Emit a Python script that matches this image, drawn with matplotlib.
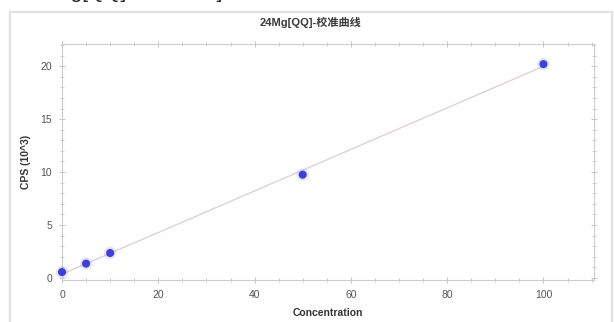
import numpy as np
import matplotlib
matplotlib.use("Agg")
import matplotlib.pyplot as plt
from matplotlib.patches import Rectangle
from matplotlib.ticker import MultipleLocator

plt.rcParams['font.family'] = ['Liberation Sans', 'Noto Sans CJK SC', 'DejaVu Sans']

# Calibration standards
concentration = [0, 5, 10, 50, 100]
cps_k = [0.55, 1.35, 2.35, 9.75, 20.2]

title = "24Mg[QQ]-校准曲线"
x_label = "Concentration"
y_label = "CPS (10^3)"
caption = "24Mg[QQ]-校准曲线]"

fig = plt.figure(figsize=(6.14, 3.22), dpi=100)
fig.patch.set_facecolor('white')

# panel frame
fig.patches.append(Rectangle((10 / 614, -0.05), 602 / 614, 1 - 12 / 322 + 0.05,
                             transform=fig.transFigure, fill=False,
                             edgecolor='#e2e2e2', linewidth=1.6))

# caption line running off the top edge
fig.text(30 / 614, 1 + 1.5 / 322, caption, fontsize=15, color='#222222',
         ha='left', va='baseline')

ax = fig.add_axes([62 / 614, 1 - 280 / 322, (594 - 62) / 614, (280 - 44) / 322])

# linear fit of the standards
slope, intercept = np.polyfit(concentration, cps_k, 1)
xf = np.array([min(concentration), max(concentration)])
ax.plot(xf, slope * xf + intercept, color='#ddd2d5', lw=1.0, zorder=2)

# markers with a soft halo
ax.scatter(concentration, cps_k, s=80, color='#8a8af2', alpha=0.2,
           edgecolors='none', zorder=3, clip_on=False)
ax.scatter(concentration, cps_k, s=34, color='#3d3de4', edgecolors='none',
           zorder=4, clip_on=False)

ax.set_xlim(0, 110.5)
ax.set_ylim(-0.2, 22.1)
ax.xaxis.set_major_locator(MultipleLocator(20))
ax.xaxis.set_minor_locator(MultipleLocator(5))
ax.yaxis.set_major_locator(MultipleLocator(5))
ax.yaxis.set_minor_locator(MultipleLocator(1))

for s in ax.spines.values():
    s.set_color('#cccccc')
    s.set_linewidth(0.8)

ax.tick_params(which='both', direction='inout', top=True, right=True,
               color='#c4c4c4', labelcolor='#555555', labelsize=7.5)
ax.tick_params(which='major', length=4, width=0.7, pad=5)
ax.tick_params(which='minor', length=2.5, width=0.6)

ax.set_xlabel(x_label, fontsize=7.5, fontweight='bold', color='#333333', labelpad=6)
ax.set_ylabel(y_label, fontsize=7.5, fontweight='bold', color='#333333', labelpad=7)

fig.text(310 / 614, 1 - 22 / 322, title, fontsize=8, fontweight='bold',
         color='#3a3a3a', ha='center', va='center')

fig.savefig("out.png", dpi=100, facecolor='white')
